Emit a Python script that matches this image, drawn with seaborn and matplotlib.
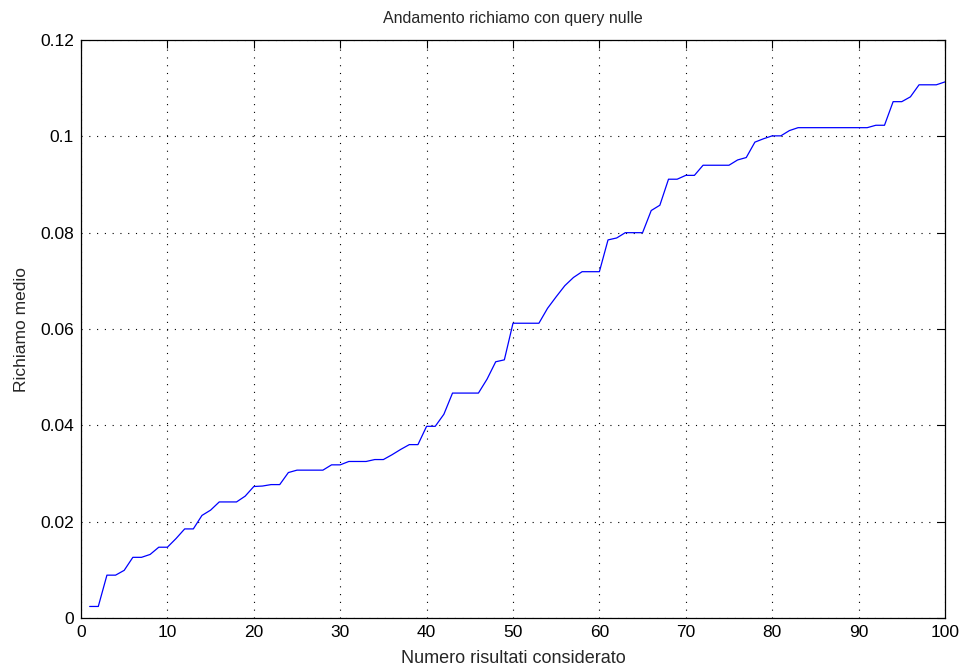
import matplotlib
matplotlib.use("Agg")
import matplotlib.pyplot as plt
import seaborn as sns
import pandas as pd

x_vals = list(range(1, 101))
recall = [
    0.0024, 0.0024, 0.0089, 0.0089, 0.0099, 0.0126, 0.0126, 0.0132, 0.0147, 0.0147,
    0.0165, 0.0185, 0.0185, 0.0213, 0.0224, 0.0241, 0.0241, 0.0241, 0.0253, 0.0273,
    0.0274, 0.0277, 0.0277, 0.0302, 0.0307, 0.0307, 0.0307, 0.0307, 0.0318, 0.0318,
    0.0325, 0.0325, 0.0325, 0.0329, 0.0329, 0.0339, 0.0350, 0.0360, 0.0360, 0.0398,
    0.0398, 0.0423, 0.0467, 0.0467, 0.0467, 0.0467, 0.0496, 0.0532, 0.0536, 0.0612,
    0.0612, 0.0612, 0.0612, 0.0643, 0.0667, 0.0690, 0.0707, 0.0719, 0.0719, 0.0719,
    0.0785, 0.0789, 0.0800, 0.0800, 0.0800, 0.0846, 0.0857, 0.0911, 0.0911, 0.0919,
    0.0919, 0.0940, 0.0940, 0.0940, 0.0940, 0.0951, 0.0956, 0.0988, 0.0995, 0.1001,
    0.1001, 0.1012, 0.1018, 0.1018, 0.1018, 0.1018, 0.1018, 0.1018, 0.1018, 0.1018,
    0.1018, 0.1023, 0.1023, 0.1072, 0.1072, 0.1082, 0.1107, 0.1107, 0.1107, 0.1113,
]
x_ticks = [0, 10, 20, 30, 40, 50, 60, 70, 80, 90, 100]
y_ticks = [0, 0.02, 0.04, 0.06, 0.08, 0.1, 0.12]
y_tick_labels = ["0", "0.02", "0.04", "0.06", "0.08", "0.1", "0.12"]

title = "Andamento richiamo con query nulle"
xlabel = "Numero risultati considerato"
ylabel = "Richiamo medio"

sns.set_style("white")
plt.rcParams["font.family"] = ["Liberation Sans", "DejaVu Sans"]

df = pd.DataFrame({"x": x_vals, "recall": recall})

fig = plt.figure(figsize=(9.69, 6.69), dpi=100)
ax = fig.add_axes([0.0836, 0.0762, 0.8916, 0.864])
sns.lineplot(data=df, x="x", y="recall", ax=ax, color="#0000ff", linewidth=0.9)

ax.set_xlim(0, 100)
ax.set_ylim(0, 0.12)
ax.set_xticks(x_ticks)
ax.set_xticklabels([str(t) for t in x_ticks])
ax.set_yticks(y_ticks)
ax.set_yticklabels(y_tick_labels)
ax.tick_params(direction="in", length=6, width=0.8, top=True, right=True,
               labelsize=12.5, colors="black")
ax.tick_params(axis="x", pad=5)
ax.tick_params(axis="y", pad=5)
ax.grid(True, linestyle=(0, (1, 6)), color="black", linewidth=0.8)
for s in ax.spines.values():
    s.set_visible(True)
    s.set_color("black")
    s.set_linewidth(0.9)

ax.set_title(title, fontsize=11.5, pad=12)
ax.set_xlabel(xlabel, fontsize=13, labelpad=7)
ax.set_ylabel(ylabel, fontsize=12.5, labelpad=8)

fig.savefig("out.png", dpi=100)
